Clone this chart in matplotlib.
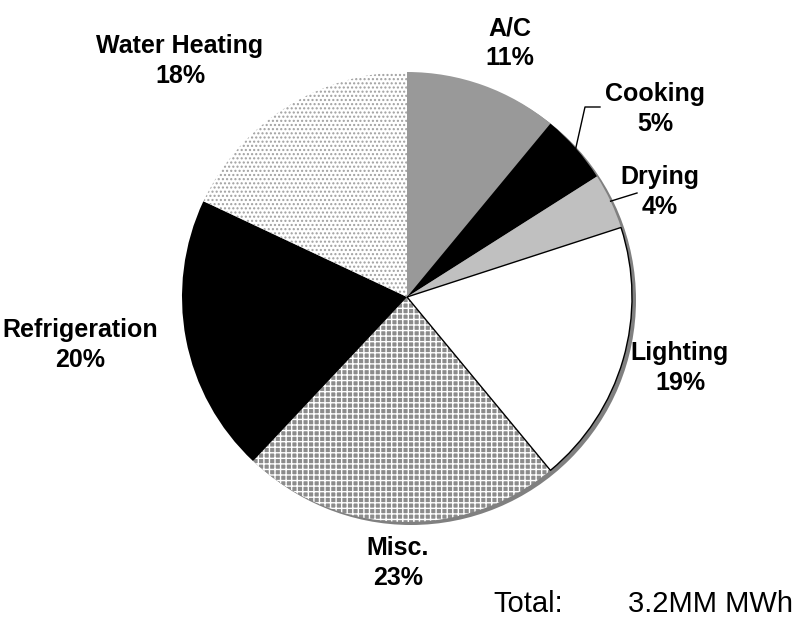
import matplotlib
matplotlib.use("Agg")
import matplotlib.pyplot as plt
from matplotlib.patches import Circle
import numpy as np

plt.rcParams['font.family'] = ['Liberation Sans', 'DejaVu Sans']
plt.rcParams['hatch.linewidth'] = 1.0

categories = ["A/C", "Cooking", "Drying", "Lighting", "Misc.", "Refrigeration", "Water Heating"]
shares = [11, 5, 4, 19, 23, 20, 18]
total_label = "3.2MM MWh"

W, H = 795, 618
fig = plt.figure(figsize=(W / 100, H / 100), dpi=100)
ax = fig.add_axes([0, 0, 1, 1])

def P(x, y):
    return (x, H - y)

cx, cy = P(407, 297)
R = 225

# shadow
ax.add_patch(Circle((cx + 4, cy - 3), R, facecolor='#808080', edgecolor='none', zorder=0))

faces = ['#999999', 'black', '#c0c0c0', 'white', '#8c8c8c', 'black', 'white']
hatches = [None, None, None, None, '+++', None, '....']
edges = ['none', 'none', 'none', 'black', 'white', 'none', '#a0a0a0']
lws = [0, 0, 0, 1.0, 0, 0, 0]

wedges, _ = ax.pie(shares, startangle=90, counterclock=False, center=(cx, cy), radius=R,
                   frame=True)
for w, fc, hc, ec, lw in zip(wedges, faces, hatches, edges, lws):
    w.set_facecolor(fc)
    w.set_edgecolor(ec)
    w.set_linewidth(lw)
    if hc:
        w.set_hatch(hc)
    w.set_zorder(1)
wedges[3].set_zorder(2)

ax.set_xlim(0, W)
ax.set_ylim(0, H)
ax.set_aspect('equal')
ax.axis('off')

label_pos = [(510, 43), (655, 109), (660, 192), (680, 368), (398, 563), (80, 345), (180, 61)]
for cat, s, (lx, ly) in zip(categories, shares, label_pos):
    ax.text(*P(lx, ly), f"{cat}\n{s}%", ha='center', va='center', fontsize=18,
            fontweight='bold', linespacing=1.3, zorder=5)

# leader lines for Cooking and Drying
cum = np.cumsum([0] + shares)
def arc_pt(i):
    mid = 90 - (cum[i] + shares[i] / 2) * 3.6
    a = np.deg2rad(mid)
    return cx + R * np.cos(a), cy + R * np.sin(a)

x0, y0 = arc_pt(1)
ax.plot([x0, P(585, 107)[0], P(600, 107)[0]], [y0, P(585, 107)[1], P(600, 107)[1]],
        color='black', lw=1, zorder=4)
x0, y0 = arc_pt(2)
ax.plot([x0, P(637, 193)[0]], [y0, P(637, 193)[1]], color='black', lw=1, zorder=4)

ax.text(*P(493, 604), "Total:", ha='left', va='center', fontsize=21)
ax.text(*P(793, 604), total_label, ha='right', va='center', fontsize=21)

fig.savefig("out.png", dpi=100)
